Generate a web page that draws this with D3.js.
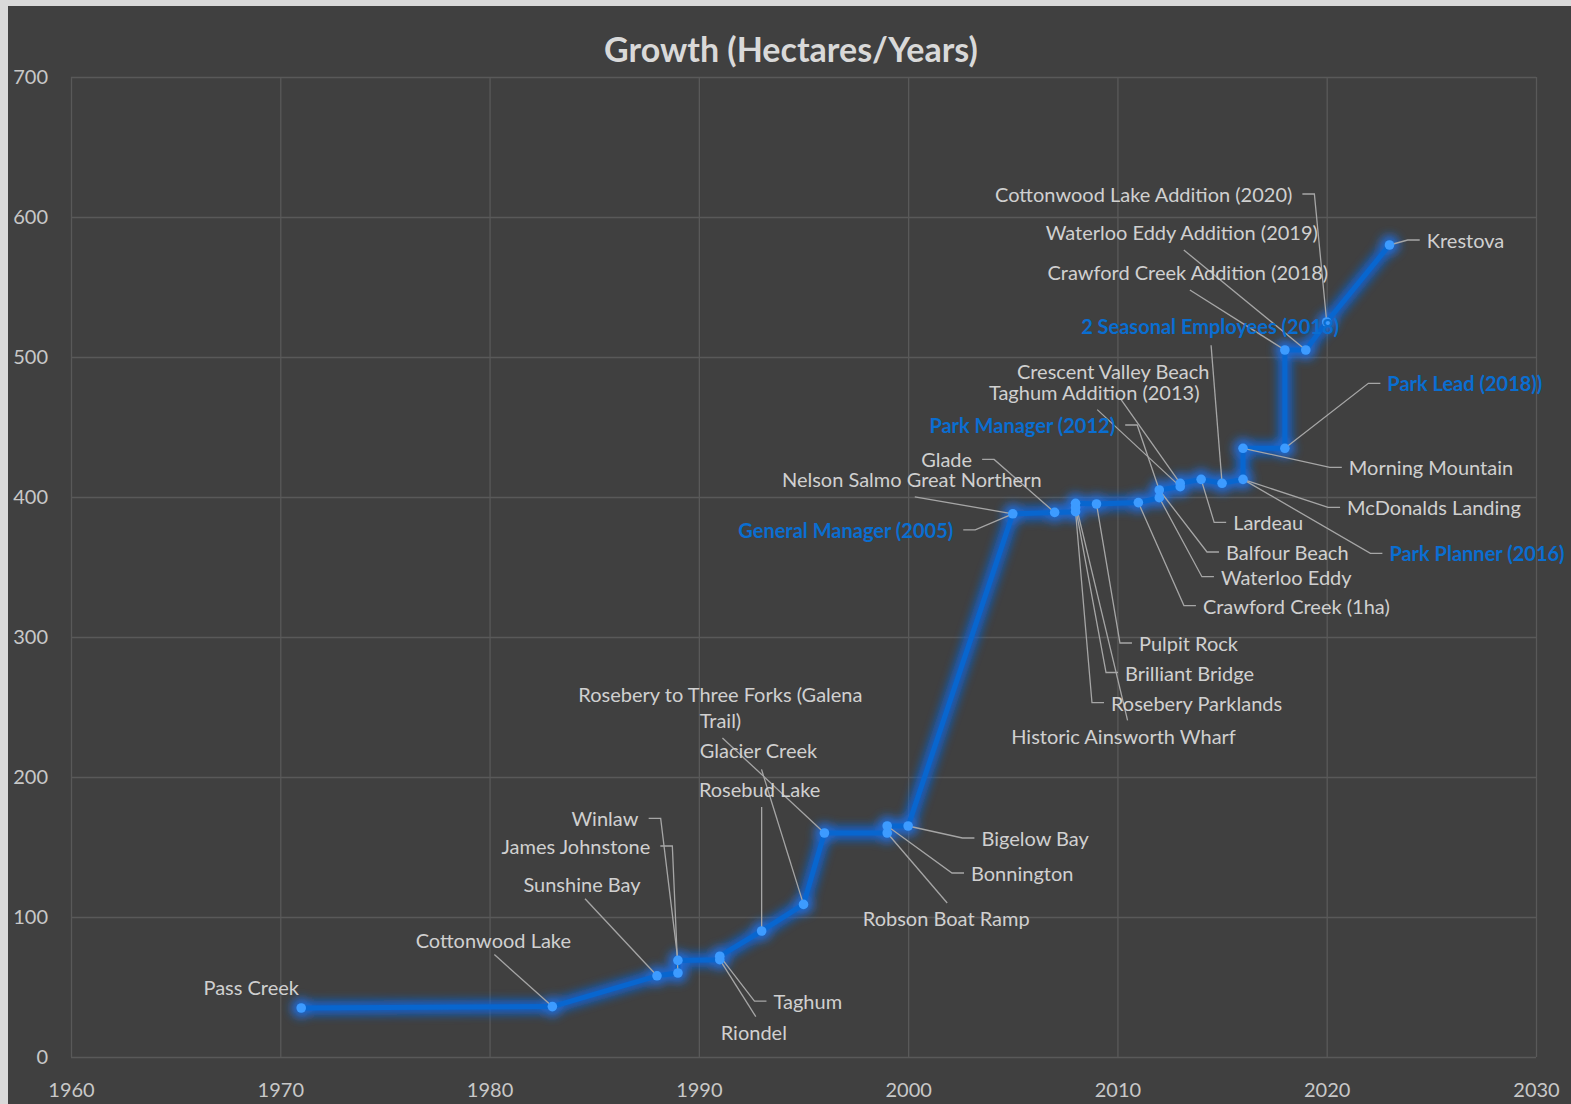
<!DOCTYPE html>
<html>
<head>
<meta charset="utf-8">
<script src="https://cdn.jsdelivr.net/npm/d3@7"></script>
<style>
  body { margin: 0; background: #d9d9d9; }
  svg { display: block; }
</style>
</head>
<body>
<div id="chart"></div>
<script>
// Parks in the order the line runs (cumulative hectares)
const years = [1971, 1983, 1988, 1989, 1989, 1991, 1991, 1993, 1995, 1996, 1999, 1999, 2000,
  2005, 2007, 2008, 2008, 2008, 2009, 2011, 2012, 2012, 2013, 2013, 2014, 2015, 2016, 2016,
  2018, 2018, 2019, 2020, 2023];
const hectares = [35, 36, 58, 60, 69, 69.5, 72, 90, 109, 160, 160, 165, 165,
  388, 389, 389.5, 392.5, 395.5, 395, 396, 399.5, 405, 407.4, 409.8, 412.6, 409.8, 412.6, 434.8,
  434.8, 505, 505, 525, 580];
const parkNames = ["Pass Creek", "Cottonwood Lake", "Sunshine Bay", "James Johnstone", "Winlaw",
  "Riondel", "Taghum", "Rosebud Lake", "Glacier Creek", "Rosebery to Three Forks (Galena\nTrail)",
  "Robson Boat Ramp", "Bonnington", "Bigelow Bay", "Nelson Salmo Great Northern", "Glade",
  "Rosebery Parklands", "Brilliant Bridge", "Historic Ainsworth Wharf", "Pulpit Rock",
  "Crawford Creek (1ha)", "Waterloo Eddy", "Balfour Beach", "Taghum Addition (2013)",
  "Crescent Valley Beach", "Lardeau", "", "McDonalds Landing", "Morning Mountain", "",
  "Crawford Creek Addition (2018)", "Waterloo Eddy Addition (2019)",
  "Cottonwood Lake Addition (2020)", "Krestova"];

// Staff milestones, pinned to points on the line
const staffNames = ["General Manager (2005)", "Park Manager (2012)", "Park Planner (2016)",
  "2 Seasonal Employees (2018)", "Park Lead (2018))"];
const staffYears = [2005, 2012, 2016, 2015, 2018];
const staffHectares = [388, 405, 412.6, 409.8, 434.8];

const xTicks = [1960, 1970, 1980, 1990, 2000, 2010, 2020, 2030];
const yTicks = [0, 100, 200, 300, 400, 500, 600, 700];

// label placement: [dx, dy] of the label centre from its point, then the leader:
// null = none, "L"/"R" = short tick on that side of the label, [ox, oy] = start offset from label centre
const parkLabelPlacement = [
  [-50, -21, null], [-59, -67, [1, 15]], [-75, -92, [3, 15]], [-102, -127, "R"], [-73, -142, "R"],
  [34, 72, [2, -15]], [88, 45, "L"], [-2, -142, [2, 18]], [-45, -154, [3, 19]], [-104, -126, [2, 31]],
  [59, 85, [1, -15]], [135, 47, "L"], [127, 12, "L"], [-101, -35, [3, 18]], [-108, -53, "R"],
  [121, 191, "L"], [114, 165, "L"], [48, 233, [4, -16]], [92, 139, "L"],
  [158, 103, "L"], [127, 79, "L"], [128, 62, "L"], [-86, -95, [3, 18]],
  [-67, -112, [7, 27]], [67, 43, "L"], null, [191, 28, "L"], [188, 19, "L"], null,
  [-97, -78, [2, 18]], [-124, -118, [2, 18]], [-183, -128, "R"], [76, -5, "L"]
];
const staffLabelPlacement = [
  [-167, 16, "R"], [-137, -65, "R"], [234, 74, "L"], [-12, -157, [1, 19]], [180, -65, "L"]
];

const W = 1571, H = 1104;
const margin = { top: 77, left: 71 };

const svg = d3.select("#chart").append("svg")
  .attr("width", W)
  .attr("height", H);

const defs = svg.append("defs");
defs.append("filter").attr("id", "glow")
  .attr("x", "-20%").attr("y", "-20%").attr("width", "140%").attr("height", "140%")
  .append("feGaussianBlur").attr("stdDeviation", 5);

svg.append("rect")
  .attr("x", 8).attr("y", 6)
  .attr("width", W - 8).attr("height", H - 6)
  .attr("fill", "#404040");

svg.append("text")
  .attr("x", 791).attr("y", 50)
  .attr("dy", "0.35em")
  .attr("text-anchor", "middle")
  .style("font-family", "Lato, 'Open Sans', sans-serif")
  .style("font-weight", "bold")
  .style("font-size", "34px")
  .style("fill", "#d9d9d9")
  .text("Growth (Hectares/Years)");

const g = svg.append("g")
  .attr("transform", `translate(${margin.left},${margin.top})`);

const x = d3.scaleLinear().domain([1960, 2030]).range([0, 1465]);
const y = d3.scaleLinear().domain([0, 700]).range([980, 0]);

const xAxis = g.append("g")
  .attr("transform", "translate(0,980)")
  .call(d3.axisBottom(x).tickValues(xTicks).tickFormat(d3.format("d")).tickSize(-980).tickPadding(26));
const yAxis = g.append("g")
  .call(d3.axisLeft(y).tickValues(yTicks).tickSize(-1465).tickPadding(23));

[xAxis, yAxis].forEach(a => {
  a.select(".domain").remove();
  a.selectAll("line").attr("stroke", "#595959").attr("stroke-width", 1.3);
  a.selectAll("text")
    .style("font-family", "Lato, 'Open Sans', sans-serif")
    .style("font-size", "20px")
    .style("fill", "#c8c8c8");
});

const pts = years.map((yr, i) => ({ yr, v: hectares[i], name: parkNames[i], place: parkLabelPlacement[i], staff: false }));
const staffPts = staffNames.map((n, i) => ({ yr: staffYears[i], v: staffHectares[i], name: n, place: staffLabelPlacement[i], staff: true }));

const line = d3.line().x(d => x(d.yr)).y(d => y(d.v));

// glow under the line and markers
const glow = g.append("g").attr("filter", "url(#glow)").attr("opacity", 0.9);
glow.append("path")
  .datum(pts)
  .attr("d", line)
  .attr("fill", "none")
  .attr("stroke", "#0f63d6")
  .attr("stroke-width", 14)
  .attr("stroke-linejoin", "round");
glow.selectAll("circle")
  .data(pts)
  .enter().append("circle")
  .attr("cx", d => x(d.yr))
  .attr("cy", d => y(d.v))
  .attr("r", 10)
  .attr("fill", "#1a6fe6");

g.append("path")
  .datum(pts)
  .attr("d", line)
  .attr("fill", "none")
  .attr("stroke", "#0866cf")
  .attr("stroke-width", 5)
  .attr("stroke-linejoin", "round");

const leaders = g.append("g");

g.selectAll("circle.marker")
  .data(pts)
  .enter().append("circle")
  .attr("class", "marker")
  .attr("cx", d => x(d.yr))
  .attr("cy", d => y(d.v))
  .attr("r", 4.8)
  .attr("fill", "#3d9bff");

// data labels
const labelled = pts.filter(d => d.place).concat(staffPts);

labelled.forEach(d => {
  const px = x(d.yr), py = y(d.v);
  const cx = px + d.place[0], cy = py + d.place[1];
  const lines = d.name.split("\n");
  const lh = 26;
  const t = g.append("text")
    .attr("text-anchor", "middle")
    .style("font-family", "Lato, 'Open Sans', sans-serif")
    .style("font-size", "20px")
    .style("font-weight", d.staff ? "bold" : "normal")
    .style("fill", d.staff ? "#0a6ed1" : "#d0d0d0");
  lines.forEach((s, k) => {
    t.append("tspan")
      .attr("x", cx)
      .attr("y", cy + (k - (lines.length - 1) / 2) * lh)
      .attr("dy", "0.4em")
      .text(s);
  });

  const lead = d.place[2];
  if (!lead) return;
  const bb = t.node().getBBox();
  let path;
  if (lead === "L") {
    const sx = bb.x - 7;
    path = [[sx, cy], [sx - 12, cy], [px, py]];
  } else if (lead === "R") {
    const sx = bb.x + bb.width + 10;
    path = [[sx, cy], [sx + 12, cy], [px, py]];
  } else {
    path = [[cx + lead[0], cy + lead[1]], [px, py]];
  }
  leaders.append("path")
    .attr("d", d3.line()(path))
    .attr("fill", "none")
    .attr("stroke", "#a6a6a6")
    .attr("stroke-width", 1.3);
});
</script>
</body>
</html>
